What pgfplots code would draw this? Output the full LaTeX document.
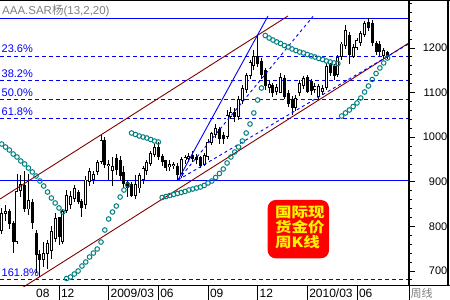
\documentclass[border=0pt]{standalone}
\usepackage{pgfplots}
\pgfplotsset{compat=1.18}
\usepackage{pgfplotstable}
\usepackage{fontspec}
\setmainfont{Liberation Sans}
\newfontfamily\cjk{Noto Sans CJK SC}
\definecolor{sarc}{RGB}{0,128,128}
\definecolor{chan}{RGB}{128,0,0}
\definecolor{fib}{RGB}{0,0,255}
\definecolor{lbl}{RGB}{128,128,128}

\pgfplotstableread{
i O H L C
-15 790 842 782 830
-14 828 848 812 835
-13 835 840 795 805
-12 808 812 740 765
-11 765 918 760 880
-10 880 915 865 895
-9 892 925 832 838
-8 838 918 825 860
-7 855 862 795 808
-6 785 792 695 736
-5 738 748 687 725
-4 725 765 708 740
-3 738 770 705 762
-2 745 800 728 790
-1 772 830 765 818
0 820 822 758 776
1 765 840 760 835
2 835 882 830 870
3 848 880 838 868
4 862 892 855 885
5 877 882 850 855
6 858 862 821 842
7 848 912 840 905
8 900 930 890 925
9 905 925 895 918
10 922 950 915 945
11 945 1007 940 994
12 994 1000 930 938
13 935 950 905 940
14 925 955 890 935
15 953 962 915 926
16 948 958 905 912
17 922 935 885 895
18 900 905 865 885
19 895 900 865 868
20 868 915 862 895
21 885 920 875 915
22 905 935 895 930
23 925 950 915 945
24 940 970 935 965
25 960 985 955 978
26 978 990 950 955
27 958 962 935 945
28 948 950 925 932
29 933 948 925 940
30 935 945 928 940
31 935 942 905 915
32 912 956 908 952
33 948 960 940 955
34 952 965 945 958
35 960 970 945 952
36 955 962 940 948
37 955 958 930 935
38 938 965 935 960
39 955 995 950 990
40 988 1012 982 1010
41 1005 1030 998 1020
42 1018 1022 985 995
43 1005 1012 985 995
44 1000 1060 995 1050
45 1045 1068 1040 1057
46 1056 1065 1035 1045
47 1045 1092 1038 1085
48 1082 1118 1075 1110
49 1105 1145 1100 1140
50 1138 1172 1130 1168
51 1160 1195 1150 1182
52 1182 1227 1158 1165
53 1170 1178 1130 1140
54 1150 1155 1105 1115
55 1110 1128 1100 1120
56 1117 1122 1090 1100
57 1102 1120 1095 1112
58 1100 1145 1098 1135
59 1133 1140 1085 1090
60 1098 1105 1068 1075
61 1085 1092 1050 1066
62 1065 1095 1058 1088
63 1100 1128 1092 1122
64 1115 1138 1108 1133
65 1135 1140 1098 1102
66 1125 1130 1095 1103
67 1105 1122 1098 1115
68 1090 1120 1085 1115
69 1102 1118 1095 1110
70 1110 1166 1105 1160
71 1165 1167 1138 1145
72 1160 1163 1128 1138
73 1140 1184 1135 1180
74 1180 1214 1172 1210
75 1205 1252 1198 1240
76 1229 1235 1165 1184
77 1180 1210 1177 1202
78 1200 1222 1195 1218
79 1211 1238 1205 1233
80 1229 1260 1225 1256
81 1258 1267 1238 1245
82 1256 1262 1205 1211
83 1211 1215 1185 1192
84 1210 1215 1180 1190
85 1182 1200 1175 1195
86 1190 1194 1176 1181
}\candles

\pgfplotstableread{
i s
-15 984.7
-14 978.0
-13 971.3
-12 962.3
-11 955.6
-10 946.6
-9 939.9
-8 930.9
-7 922.0
-6 913.0
-5 901.8
-4 890.6
-3 877.1
-2 863.7
-1 852.5
0 841.3
1 832.3
2 683.2
3 686.5
4 693.3
5 700.0
6 711.2
7 720.2
8 731.4
9 740.3
10 749.3
11 765.0
12 791.9
13 816.6
14 832.3
15 845.7
16 865.9
17 881.6
18 892.8
19 1009.4
20 1006.1
21 1002.7
22 1000.4
23 998.2
24 994.8
25 991.5
26 989.2
27 864.8
28 867.0
29 869.3
30 871.5
31 873.8
32 876.0
33 878.3
34 881.6
35 883.8
36 886.1
37 888.3
38 891.7
39 897.3
40 901.8
41 909.6
42 918.6
43 928.7
44 942.2
45 955.6
46 966.8
47 978.0
48 991.5
49 1009.4
50 1029.6
51 1054.3
52 1083.4
53 1110.3
54 1228.0
55 1222.4
56 1217.9
57 1213.5
58 1210.1
59 1205.6
60 1202.2
61 1197.8
62 1194.4
63 1191.0
64 1188.8
65 1185.4
66 1182.1
67 1179.8
68 1176.5
69 1174.2
70 1170.9
71 1168.6
72 1166.4
73 1165.2
74 1047.5
75 1054.3
76 1061.0
77 1068.8
78 1076.7
79 1087.9
80 1101.3
81 1114.8
82 1129.4
83 1142.8
84 1155.2
85 1166.4
86 1177.6
}\sar

\begin{document}
\begin{tikzpicture}[x=1pt,y=1pt]
\useasboundingbox (0,0) rectangle (450,300);
\begin{axis}[
  at={(0pt,14pt)}, anchor=south west, scale only axis,
  width=408pt, height=286pt,
  xmin=-15.445, xmax=91.36, ymin=666.4, ymax=1307.6,
  axis line style={draw=none},
  xtick=\empty,
  ytick={700,800,...,1200},
  minor ytick={680,700,...,1300},
  ytick pos=right, yticklabel pos=right,
  tick align=outside,
  major tick length=7pt, minor tick length=3.5pt,
  ytick style={line width=0.9pt, black},
  yticklabel style={anchor=east, inner sep=0pt, xshift=32.5pt, font=\fontsize{11}{13}\selectfont},
  /pgf/number format/.cd, 1000 sep={}, assume math mode=true,
]
% Fibonacci levels
\addplot[fib, line width=1pt, forget plot] coordinates {(-15.445,1265) (91.36,1265)};
\addplot[fib, line width=1pt, forget plot] coordinates {(-15.445,904) (91.36,904)};
\addplot[fib, line width=1pt, dash pattern=on 4pt off 3pt, forget plot] coordinates {(-15.445,1179.8) (91.36,1179.8)};
\addplot[fib, line width=1pt, dash pattern=on 4pt off 3pt, forget plot] coordinates {(-15.445,1127.1) (91.36,1127.1)};
\addplot[fib, line width=1pt, dash pattern=on 4pt off 3pt, forget plot] coordinates {(-15.445,1084.5) (91.36,1084.5)};
\addplot[fib, line width=1pt, dash pattern=on 4pt off 3pt, forget plot] coordinates {(-15.445,1041.9) (91.36,1041.9)};
\addplot[fib, line width=1pt, dash pattern=on 4pt off 3pt, forget plot] coordinates {(-15.445,680.9) (91.36,680.9)};
% candles: wicks
\addplot[draw=none, forget plot, error bars/.cd, y dir=both, y explicit, error mark=none,
  error bar style={draw=black, line width=0.9pt}]
  table[x=i, y expr={(\thisrow{H}+\thisrow{L})/2},
        y error plus expr={(\thisrow{H}-\thisrow{L})/2},
        y error minus expr={(\thisrow{H}-\thisrow{L})/2}] {\candles};
% bodies
\addplot[draw=none, forget plot, error bars/.cd, y dir=both, y explicit, error mark=none,
  error bar style={draw=black, line width=3pt}]
  table[x=i, y expr={(\thisrow{O}+\thisrow{C})/2},
        y error expr={max(abs(\thisrow{C}-\thisrow{O})/2,1.1)}] {\candles};
% hollow interior of rising candles
\addplot[draw=none, forget plot, error bars/.cd, y dir=both, y explicit, error mark=none,
  error bar style={draw=white, line width=1.2pt}]
  table[x=i, y expr={(\thisrow{O}+\thisrow{C})/2},
        y error expr={max((\thisrow{C}-\thisrow{O})/2-2,0)}] {\candles};
% channel
\addplot[chan, line width=0.9pt, forget plot] coordinates {(-15.445,861.4) (59.95,1271.8)};
\addplot[chan, line width=0.9pt, forget plot] coordinates {(-15.445,630.9) (91.36,1210.1)};
% fan lines
\addplot[fib, line width=0.9pt, forget plot] coordinates {(31.15,904) (54.71,1271.7)};
\addplot[fib, line width=0.9pt, dash pattern=on 3pt off 3pt, forget plot] coordinates {(31.15,904) (66.5,1271)};
\addplot[fib, line width=0.9pt, dash pattern=on 3pt off 3pt, forget plot] coordinates {(31.15,904) (91.36,1208.3)};
% SAR
\addplot[only marks, mark=o, mark size=2.3pt, mark options={draw=sarc, line width=1pt}] table[x=i, y=s] {\sar};
% Fibonacci labels
\node[anchor=base west, inner sep=0pt, text=fib, font=\fontsize{11}{13}\selectfont, xshift=1.5pt, yshift=4pt] at (axis cs:-15.445,1179.8) {23.6\%};
\node[anchor=base west, inner sep=0pt, text=fib, font=\fontsize{11}{13}\selectfont, xshift=1.5pt, yshift=3.5pt] at (axis cs:-15.445,1127.1) {38.2\%};
\node[anchor=base west, inner sep=0pt, text=fib, font=\fontsize{11}{13}\selectfont, xshift=1.5pt, yshift=3pt] at (axis cs:-15.445,1084.5) {50.0\%};
\node[anchor=base west, inner sep=0pt, text=fib, font=\fontsize{11}{13}\selectfont, xshift=1.5pt, yshift=3.5pt] at (axis cs:-15.445,1041.9) {61.8\%};
\node[anchor=base west, inner sep=0pt, text=fib, font=\fontsize{11}{13}\selectfont, xshift=1.5pt, yshift=3pt] at (axis cs:-15.445,680.9) {161.8\%};
\end{axis}
% frame
\draw[black, line width=1pt] (0,14) -- (450,14);
\draw[black, line width=1.2pt] (0,299.4) -- (450,299.4);
\draw[black, line width=2pt] (409,14) -- (409,300);
\draw[black, line width=2pt] (448,14) -- (448,300);
% title
\node[anchor=west, inner sep=0pt, text=lbl, font=\fontsize{11.5}{13}\selectfont] at (2,289.5) {AAA.SAR{\cjk 杨}(13,2,20)};
% x axis separators and labels
\foreach \xx in {59, 108.66, 158.32, 207.98, 257.64, 307.3, 356.96}{
  \draw[black, line width=0.8pt] (\xx,14) -- (\xx,0);
}
\node[anchor=west, inner sep=0pt, font=\fontsize{12}{13}\selectfont] at (36,7) {08};
\node[anchor=west, inner sep=0pt, font=\fontsize{12}{13}\selectfont] at (60.8,7) {12};
\node[anchor=west, inner sep=0pt, font=\fontsize{12}{13}\selectfont] at (110.4,7) {2009/03};
\node[anchor=west, inner sep=0pt, font=\fontsize{12}{13}\selectfont] at (160.1,7) {06};
\node[anchor=west, inner sep=0pt, font=\fontsize{12}{13}\selectfont] at (209.8,7) {09};
\node[anchor=west, inner sep=0pt, font=\fontsize{12}{13}\selectfont] at (259.4,7) {12};
\node[anchor=west, inner sep=0pt, font=\fontsize{12}{13}\selectfont] at (309.1,7) {2010/03};
\node[anchor=west, inner sep=0pt, font=\fontsize{12}{13}\selectfont] at (358.8,7) {06};
\draw[black, line width=0.8pt] (409,14) -- (409,0);
\node[anchor=west, inner sep=0pt, text=lbl, font=\cjk\fontsize{11}{13}\selectfont] at (410.5,7) {周线};
% red label box
\fill[red, rounded corners=8pt] (267.7,41.7) rectangle (329,100);
\node[anchor=west, inner sep=0pt, text=yellow, font=\cjk\bfseries\fontsize{14}{15}\selectfont] at (275,87.5) {\scalebox{1.18}[1]{国际现}};
\node[anchor=west, inner sep=0pt, text=yellow, font=\cjk\bfseries\fontsize{14}{15}\selectfont] at (275,72.5) {\scalebox{1.18}[1]{货金价}};
\node[anchor=west, inner sep=0pt, text=yellow, font=\cjk\bfseries\fontsize{14}{15}\selectfont] at (275,57.5) {\scalebox{1.18}[1]{周K线}};
\end{tikzpicture}
\end{document}
